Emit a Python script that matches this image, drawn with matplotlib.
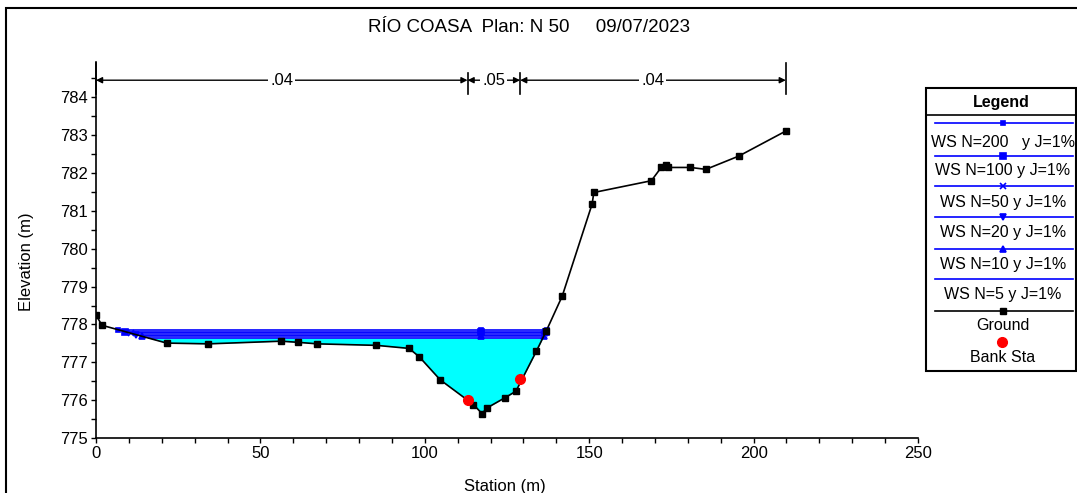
import matplotlib
matplotlib.use("Agg")
import matplotlib.pyplot as plt
import numpy as np
from matplotlib.patches import Rectangle
from matplotlib.ticker import MultipleLocator

plt.rcParams['font.family'] = ['Liberation Sans', 'DejaVu Sans']

# terreno (estacion, cota)
ground_sta = [0.0, 1.8, 21.5, 34.2, 56.3, 61.5, 67.3, 85.3, 95.2, 98.3, 104.7, 114.8,
              117.4, 118.9, 124.4, 127.7, 133.9, 137.0, 141.8, 150.9, 151.4, 168.9,
              171.9, 173.5, 174.0, 180.8, 185.5, 195.5, 209.8]
ground_elev = [778.25, 777.98, 777.51, 777.49, 777.56, 777.53, 777.49, 777.45, 777.37,
               777.15, 776.54, 775.89, 775.65, 775.80, 776.07, 776.24, 777.29, 777.84,
               778.75, 781.18, 781.48, 781.79, 782.14, 782.20, 782.14, 782.14, 782.09,
               782.44, 783.10]

bank_sta = [113.0, 129.0]
bank_elev = [776.00, 776.57]

# perfiles de agua
ws_names = ["WS N=200   y J=1%", "WS N=100 y J=1%", "WS N=50 y J=1%",
            "WS N=20 y J=1%", "WS N=10 y J=1%", "WS N=5 y J=1%"]
ws_elev = [777.86, 777.81, 777.77, 777.73, 777.69, 777.64]
ws_left = [6.8, 8.9, 10.6, 12.3, 13.9, 16.0]
ws_mid = [117.0, 117.0, 117.0, 117.0, 117.0, 117.0]
ws_right = [137.1, 136.8, 136.6, 136.4, 136.2, 135.9]
ws_markers = ['s', 's', 'x', 'v', '^', None]
ws_msize = [3.5, 5, 5, 5, 5, 0]

# coeficientes de Manning
n_bounds = [0.0, 113.0, 129.0, 209.8]
n_labels = [".04", ".05", ".04"]

W, H = 1077, 493
fig = plt.figure(figsize=(W / 100, H / 100), dpi=100)

# marco de la figura
fig.patches.append(Rectangle((6 / W, -0.05), 1.1, 1 - 8 / H + 0.05, transform=fig.transFigure,
                             fill=False, edgecolor='black', linewidth=1.5))

ax = fig.add_axes([96 / W, 1 - 438.3 / H, (918 - 96) / W, (438.3 - 62) / H])

ax.fill_between(ground_sta, ground_elev, ws_elev[-1],
                where=[e < ws_elev[-1] for e in ground_elev], interpolate=True,
                color='#00ffff', linewidth=0, zorder=1)

for i in range(len(ws_elev)):
    xs = [ws_left[i], ws_mid[i], ws_right[i]]
    ys = [ws_elev[i]] * 3
    ax.plot(xs, ys, color='#0000ff', linewidth=1.2, zorder=2)
    if ws_markers[i]:
        ax.plot(xs, ys, linestyle='none', marker=ws_markers[i], markersize=ws_msize[i],
                color='#0000ff', markeredgewidth=1.2, zorder=3)

ax.plot(ground_sta, ground_elev, color='black', linewidth=1.2, marker='s', markersize=4.5, zorder=4)
ax.plot(bank_sta, bank_elev, linestyle='none', marker='o', markersize=7, color='#ff0000', zorder=5)

# cotas de rugosidad
ya = 784.44
for b in n_bounds:
    top = 784.9 if b in (n_bounds[0], n_bounds[-1]) else 784.62
    ax.plot([b, b], [784.07, top], color='black', linewidth=1.2, clip_on=False)
for j in range(len(n_labels)):
    a, b = n_bounds[j], n_bounds[j + 1]
    ax.annotate("", xy=(a, ya), xytext=(b, ya),
                arrowprops=dict(arrowstyle='<|-|>', color='black', lw=1.0,
                                mutation_scale=9, shrinkA=0, shrinkB=0))
    ax.text((a + b) / 2, ya, n_labels[j], ha='center', va='center', fontsize=12,
            bbox=dict(facecolor='white', edgecolor='none', pad=1.5))

ax.set_xlim(0, 250)
ax.set_ylim(775, 784.92)
ax.xaxis.set_major_locator(MultipleLocator(50))
ax.xaxis.set_minor_locator(MultipleLocator(10))
ax.yaxis.set_minor_locator(MultipleLocator(0.5))
ax.set_yticks(np.arange(775, 785, 1))
ax.tick_params(which='both', direction='out', length=3.5, width=1.0, labelsize=12, pad=2)
for s in ['top', 'right']:
    ax.spines[s].set_visible(False)
for s in ['left', 'bottom']:
    ax.spines[s].set_linewidth(1.2)

fig.text(529 / W, 1 - 28 / H, "RÍO COASA  Plan: N 50     09/07/2023", ha='center', va='center',
         fontsize=13.5)
fig.text(505 / W, 1 - 487 / H, "Station (m)", ha='center', va='center', fontsize=12)
fig.text(27 / W, 1 - 262 / H, "Elevation (m)", ha='center', va='center', rotation=90, fontsize=12)

# leyenda manual
lg = fig.add_axes([926 / W, 1 - 371 / H, 150 / W, (371 - 88) / H])
lg.set_xlim(926, 1076)
lg.set_ylim(371, 88)
lg.axis('off')
lg.add_patch(Rectangle((926, 88), 150, 283, fill=False, edgecolor='black', linewidth=1.5, clip_on=False))
lg.plot([926, 1076], [115, 115], color='black', linewidth=1.2)
lg.text(1001, 103, "Legend", ha='center', va='center', fontsize=11.5, fontweight='bold')
line_y = [123, 156, 186, 217, 249, 279]
text_y = [142, 171, 202, 232, 264, 295]
for i in range(len(ws_names)):
    lg.plot([935, 1073], [line_y[i]] * 2, color='#0000ff', linewidth=1.2)
    if ws_markers[i]:
        lg.plot([1003], [line_y[i]], marker=ws_markers[i], markersize=ws_msize[i],
                color='#0000ff', markeredgewidth=1.2)
    lg.text(1003, text_y[i], ws_names[i], ha='center', va='center', fontsize=11.5)
lg.plot([935, 1073], [311, 311], color='black', linewidth=1.2)
lg.plot([1003], [311], marker='s', markersize=4.5, color='black')
lg.text(1003, 326, "Ground", ha='center', va='center', fontsize=11.5)
lg.plot([1002], [342], marker='o', markersize=7, color='#ff0000')
lg.text(1003, 358, "Bank Sta", ha='center', va='center', fontsize=11.5)

fig.savefig("out.png", dpi=100)
